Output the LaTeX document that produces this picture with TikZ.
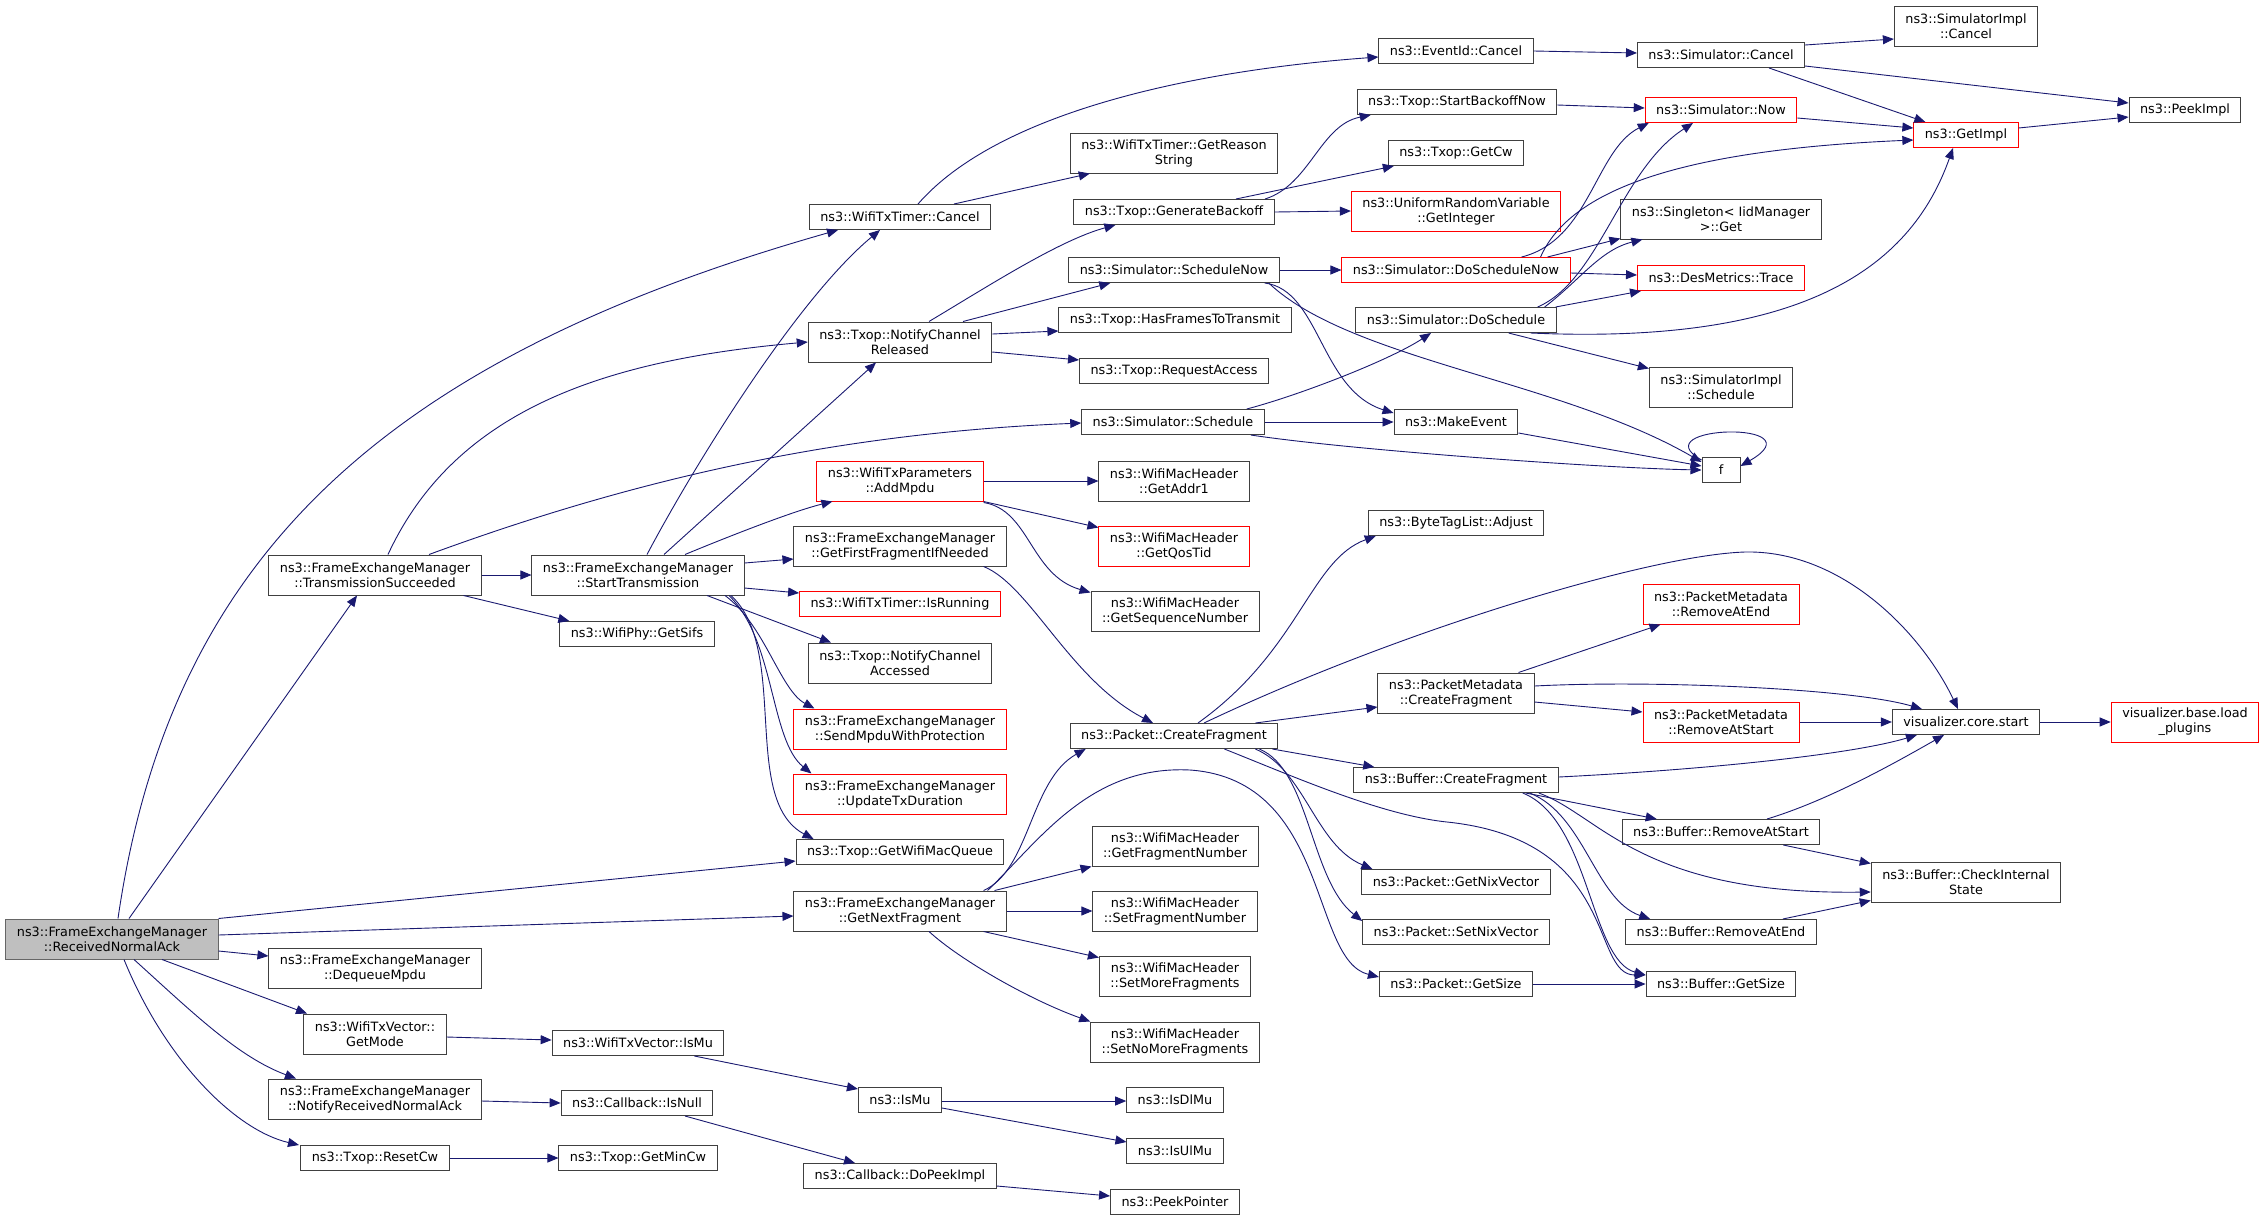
\documentclass[tikz,border=0pt]{standalone}
\usepackage{fontspec}
\setmainfont{DejaVu Sans}
\usetikzlibrary{arrows.meta,calc}
\definecolor{edgecol}{HTML}{191970}
\definecolor{boxcol}{HTML}{404040}
\definecolor{truncol}{HTML}{FF0000}
\definecolor{curdraw}{HTML}{666666}
\definecolor{curfill}{HTML}{BFBFBF}
\tikzset{
  fn/.style={draw=boxcol, line width=1pt, fill=white, inner xsep=11pt, inner ysep=2pt,
    minimum height=25pt, align=center, font=\fontsize{12.8}{15}\selectfont},
  dbl/.style={minimum height=40pt},
  trunc/.style={draw=truncol},
  cur/.style={draw=curdraw, fill=curfill},
  call/.style={draw=edgecol, line width=0.9pt, -{Triangle[length=11pt,width=9pt]}}
}
\begin{document}
\begin{tikzpicture}[x=1pt,y=-1pt]
\useasboundingbox (0,0) rectangle (2267,1221);
\node[fn,dbl,cur] (rna) at (112,939) {ns3::FrameExchangeManager\\::ReceivedNormalAck};
\node[fn,dbl] (ts) at (375,575) {ns3::FrameExchangeManager\\::TransmissionSucceeded};
\node[fn,dbl] (st) at (638,575) {ns3::FrameExchangeManager\\::StartTransmission};
\node[fn] (sifs) at (637,634) {ns3::WifiPhy::GetSifs};
\node[fn,dbl] (dqm) at (375,968) {ns3::FrameExchangeManager\\::DequeueMpdu};
\node[fn,dbl] (gm) at (375,1034) {ns3::WifiTxVector::\\GetMode};
\node[fn,dbl] (nrna) at (375,1099) {ns3::FrameExchangeManager\\::NotifyReceivedNormalAck};
\node[fn] (rcw) at (375,1158) {ns3::Txop::ResetCw};
\node[fn] (tcan) at (900,217) {ns3::WifiTxTimer::Cancel};
\node[fn,dbl] (ncr) at (900,342) {ns3::Txop::NotifyChannel\\Released};
\node[fn,dbl,trunc] (addm) at (900,481) {ns3::WifiTxParameters\\::AddMpdu};
\node[fn,dbl] (gff) at (900,546) {ns3::FrameExchangeManager\\::GetFirstFragmentIfNeeded};
\node[fn,trunc] (run) at (900,604) {ns3::WifiTxTimer::IsRunning};
\node[fn,dbl] (nca) at (900,663) {ns3::Txop::NotifyChannel\\Accessed};
\node[fn,dbl,trunc] (smp) at (900,729) {ns3::FrameExchangeManager\\::SendMpduWithProtection};
\node[fn,dbl,trunc] (utd) at (900,794) {ns3::FrameExchangeManager\\::UpdateTxDuration};
\node[fn] (gwmq) at (900,852) {ns3::Txop::GetWifiMacQueue};
\node[fn,dbl] (gnf) at (900,911) {ns3::FrameExchangeManager\\::GetNextFragment};
\node[fn] (tvmu) at (638,1043) {ns3::WifiTxVector::IsMu};
\node[fn] (isnull) at (637,1103) {ns3::Callback::IsNull};
\node[fn] (gmin) at (638,1158) {ns3::Txop::GetMinCw};
\node[fn] (ismu) at (900,1100) {ns3::IsMu};
\node[fn] (dpi) at (900,1176) {ns3::Callback::DoPeekImpl};
\node[fn,dbl] (grs) at (1174,153) {ns3::WifiTxTimer::GetReason\\String};
\node[fn] (gb) at (1174,212) {ns3::Txop::GenerateBackoff};
\node[fn] (sn) at (1174,270) {ns3::Simulator::ScheduleNow};
\node[fn] (hft) at (1175,320) {ns3::Txop::HasFramesToTransmit};
\node[fn] (ra) at (1174,371) {ns3::Txop::RequestAccess};
\node[fn] (sch) at (1173,422) {ns3::Simulator::Schedule};
\node[fn,dbl] (ga1) at (1174,481) {ns3::WifiMacHeader\\::GetAddr1};
\node[fn,dbl,trunc] (gqt) at (1174,546) {ns3::WifiMacHeader\\::GetQosTid};
\node[fn,dbl] (gsn) at (1175,611) {ns3::WifiMacHeader\\::GetSequenceNumber};
\node[fn] (pcf) at (1174,736) {ns3::Packet::CreateFragment};
\node[fn,dbl] (gfn) at (1175,846) {ns3::WifiMacHeader\\::GetFragmentNumber};
\node[fn,dbl] (sfn) at (1175,911) {ns3::WifiMacHeader\\::SetFragmentNumber};
\node[fn,dbl] (smf) at (1175,976) {ns3::WifiMacHeader\\::SetMoreFragments};
\node[fn,dbl] (snmf) at (1175,1042) {ns3::WifiMacHeader\\::SetNoMoreFragments};
\node[fn] (isdl) at (1175,1100) {ns3::IsDlMu};
\node[fn] (isul) at (1175,1151) {ns3::IsUlMu};
\node[fn] (ppt) at (1175,1202) {ns3::PeekPointer};
\node[fn] (ecan) at (1456,51) {ns3::EventId::Cancel};
\node[fn] (sbn) at (1457,102) {ns3::Txop::StartBackoffNow};
\node[fn] (gcw) at (1456,153) {ns3::Txop::GetCw};
\node[fn,dbl,trunc] (gint) at (1456,211) {ns3::UniformRandomVariable\\::GetInteger};
\node[fn,trunc] (dsn) at (1456,270) {ns3::Simulator::DoScheduleNow};
\node[fn] (ds) at (1456,320) {ns3::Simulator::DoSchedule};
\node[fn] (mev) at (1456,422) {ns3::MakeEvent};
\node[fn] (adj) at (1456,523) {ns3::ByteTagList::Adjust};
\node[fn,dbl] (pmcf) at (1456,693) {ns3::PacketMetadata\\::CreateFragment};
\node[fn] (bcf) at (1456,780) {ns3::Buffer::CreateFragment};
\node[fn] (gnv) at (1456,882) {ns3::Packet::GetNixVector};
\node[fn] (snv) at (1456,932) {ns3::Packet::SetNixVector};
\node[fn] (pgs) at (1456,984) {ns3::Packet::GetSize};
\node[fn] (scan) at (1721,55) {ns3::Simulator::Cancel};
\node[fn,trunc] (now) at (1721,110) {ns3::Simulator::Now};
\node[fn,dbl] (sing) at (1721,219) {ns3::Singleton< IidManager\\>::Get};
\node[fn,trunc] (trace) at (1721,278) {ns3::DesMetrics::Trace};
\node[fn,dbl] (sisch) at (1721,387) {ns3::SimulatorImpl\\::Schedule};
\node[fn,minimum width=38pt] (f) at (1721,470) {f};
\node[fn,dbl,trunc] (rae) at (1721,604) {ns3::PacketMetadata\\::RemoveAtEnd};
\node[fn,dbl,trunc] (ras) at (1721,722) {ns3::PacketMetadata\\::RemoveAtStart};
\node[fn] (brs) at (1721,832) {ns3::Buffer::RemoveAtStart};
\node[fn] (bre) at (1721,932) {ns3::Buffer::RemoveAtEnd};
\node[fn] (bgs) at (1721,984) {ns3::Buffer::GetSize};
\node[fn,dbl] (sican) at (1966,26) {ns3::SimulatorImpl\\::Cancel};
\node[fn,trunc] (gimpl) at (1966,135) {ns3::GetImpl};
\node[fn] (vcs) at (1966,722) {visualizer.core.start};
\node[fn,dbl] (cis) at (1966,882) {ns3::Buffer::CheckInternal\\State};
\node[fn] (pimpl) at (2185,110) {ns3::PeekImpl};
\node[fn,dbl,trunc] (lp) at (2185,722) {visualizer.base.load\\\_plugins};
\draw[call] ($(rna.north)+(6,0)$) .. controls (170,560) and (380,360) .. ($(tcan.south)+(-62,0)$);
\draw[call] ($(rna.north)+(17,0)$) -- ($(ts.south)+(-18,0)$);
\draw[call] (rna.north east) -- ($(gwmq.west)+(0,9)$);
\draw[call] ($(rna.east)+(0,-4)$) -- ($(gnf.west)+(0,5)$);
\draw[call] ($(rna.east)+(0,12)$) -- ($(dqm.west)+(0,-12)$);
\draw[call] ($(rna.south)+(50,0)$) -- ($(gm.north)+(-68,0)$);
\draw[call] ($(rna.south)+(22,0)$) .. controls (192,1012) and (238,1057) .. ($(nrna.north)+(-79,0)$);
\draw[call] ($(rna.south)+(12,0)$) .. controls (165,1060) and (235,1130) .. ($(rcw.north)+(-76,0)$);
\draw[call] ($(ts.north)+(13,0)$) .. controls (455,410) and (604,360) .. (ncr.west);
\draw[call] ($(ts.north)+(54,0)$) .. controls (640,477) and (841,433) .. ($(sch.west)+(0,1)$);
\draw[call] (ts.east) -- (st.west);
\draw[call] ($(ts.south east)+(-18,0)$) -- ($(sifs.north west)+(10,0)$);
\draw[call] ($(st.north)+(9,0)$) .. controls (696,462) and (798,298) .. ($(tcan.south)+(-20,0)$);
\draw[call] ($(st.north)+(26,0)$) -- ($(ncr.south)+(-24,0)$);
\draw[call] ($(st.north)+(47,0)$) .. controls (720,540) and (790,512) .. ($(addm.south west)+(16,0)$);
\draw[call] ($(st.east)+(0,-12)$) -- ($(gff.west)+(0,13)$);
\draw[call] ($(st.east)+(0,13)$) -- ($(run.west)+(0,-11)$);
\draw[call] ($(st.south)+(69,0)$) -- ($(nca.north)+(-69,0)$);
\draw[call] ($(st.south)+(87,0)$) .. controls (765,625) and (780,690) .. ($(smp.north west)+(21,0)$);
\draw[call] ($(st.south)+(91,0)$) .. controls (775,640) and (770,740) .. ($(utd.north west)+(18,0)$);
\draw[call] ($(st.south)+(93,0)$) .. controls (790,650) and (740,800) .. ($(gwmq.north west)+(18,0)$);
\draw[call] ($(tcan.north)+(18,0)$) .. controls (1000,110) and (1200,70) .. ($(ecan.west)+(0,6)$);
\draw[call] ($(tcan.north)+(54,0)$) -- ($(grs.south west)+(20,0)$);
\draw[call] ($(ncr.north)+(29,0)$) .. controls (990,285) and (1060,240) .. ($(gb.south west)+(42,0)$);
\draw[call] ($(ncr.north)+(63,0)$) -- ($(sn.south west)+(42,0)$);
\draw[call] ($(ncr.east)+(0,-8)$) -- ($(hft.west)+(0,11)$);
\draw[call] ($(ncr.east)+(0,10)$) -- ($(ra.west)+(0,-11)$);
\draw[call] ($(gb.north)+(91,0)$) .. controls (1310,185) and (1320,125) .. ($(sbn.south west)+(14,0)$);
\draw[call] ($(gb.north)+(62,0)$) -- ($(gcw.south west)+(6,0)$);
\draw[call] (gb.east) -- (gint.west);
\draw[call] ($(sbn.east)+(0,3)$) -- ($(now.west)+(0,-2)$);
\draw[call] (sn.east) -- (dsn.west);
\draw[call] ($(sn.south east)+(-15,0)$) .. controls (1320,290) and (1320,390) .. ($(mev.north west)+(0,4)$);
\draw[call] ($(sn.south east)+(-11,0)$) .. controls (1350,360) and (1560,380) .. ($(f.west)+(0,-8)$);
\draw[call] ($(dsn.north east)+(-49,0)$) .. controls (1590,240) and (1595,150) .. ($(now.south west)+(4,0)$);
\draw[call] ($(dsn.north east)+(-30,0)$) .. controls (1570,190) and (1680,150) .. ($(gimpl.west)+(0,5)$);
\draw[call] ($(dsn.north east)+(-23,0)$) -- ($(sing.south west)+(0,-1)$);
\draw[call] ($(dsn.east)+(0,3)$) -- ($(trace.west)+(0,-3)$);
\draw[call] ($(ds.north east)+(-19,0)$) .. controls (1600,280) and (1620,170) .. ($(now.south)+(-28,0)$);
\draw[call] ($(ds.north east)+(-12,0)$) .. controls (1580,280) and (1600,250) .. ($(sing.south west)+(22,0)$);
\draw[call] ($(ds.north east)+(-1,0)$) -- ($(trace.south west)+(4,0)$);
\draw[call] ($(ds.south east)+(-26,0)$) .. controls (1800,345) and (1910,270) .. ($(gimpl.south)+(-13,0)$);
\draw[call] ($(ds.south east)+(-48,0)$) -- ($(sisch.north west)+(0,2)$);
\draw[call] ($(sch.north east)+(-18,0)$) .. controls (1300,395) and (1390,360) .. ($(ds.south)+(-25,0)$);
\draw[call] (sch.east) -- (mev.west);
\draw[call] ($(sch.south east)+(-14,0)$) .. controls (1350,450) and (1600,468) .. (f.west);
\draw[call] ($(mev.east)+(0,11)$) -- ($(f.west)+(0,-4)$);
\draw[call] ($(f.north west)+(0,3)$) .. controls (1640,425) and (1820,420) .. ($(f.east)+(0,-4)$);
\draw[call] (ecan.east) -- ($(scan.west)+(0,-2)$);
\draw[call] ($(scan.east)+(0,-10)$) -- ($(sican.west)+(0,13)$);
\draw[call] ($(scan.east)+(0,11)$) -- ($(pimpl.west)+(0,-7)$);
\draw[call] ($(scan.south east)+(-36,0)$) -- ($(gimpl.north west)+(12,0)$);
\draw[call] ($(now.east)+(0,8)$) -- ($(gimpl.west)+(0,-7)$);
\draw[call] ($(gimpl.east)+(0,-7)$) -- ($(pimpl.west)+(0,7)$);
\draw[call] (addm.east) -- (ga1.west);
\draw[call] (addm.south east) -- ($(gqt.north west)+(0,2)$);
\draw[call] ($(addm.south east)+(0,1)$) .. controls (1030,510) and (1030,575) .. ($(gsn.north west)+(0,2)$);
\draw[call] ($(gff.south east)+(-23,0)$) .. controls (1030,585) and (1070,680) .. ($(pcf.north)+(-21,0)$);
\draw[call] ($(gnf.north east)+(-23,0)$) .. controls (1030,870) and (1030,780) .. ($(pcf.south west)+(16,0)$);
\draw[call] ($(gnf.north east)+(-19,0)$) .. controls (1040,840) and (1090,765) .. (1190,770)
  .. controls (1330,780) and (1310,960) .. ($(pgs.west)+(0,-7)$);
\draw[call] ($(gnf.north east)+(-12,0)$) -- (gfn.south west);
\draw[call] (gnf.east) -- (sfn.west);
\draw[call] ($(gnf.south east)+(-23,0)$) -- ($(smf.north west)+(0,2)$);
\draw[call] ($(gnf.south)+(29,0)$) .. controls (960,960) and (1030,1000) .. (snmf.north west);
\draw[call] ($(pcf.north)+(24,0)$) .. controls (1300,650) and (1310,560) .. ($(adj.south west)+(8,0)$);
\draw[call] ($(pcf.north)+(30,0)$) .. controls (1400,630) and (1650,555) .. (1745,552)
  .. controls (1840,550) and (1920,630) .. ($(vcs.north)+(-8,0)$);
\draw[call] ($(pcf.north east)+(-23,0)$) -- ($(pmcf.west)+(0,14)$);
\draw[call] ($(pcf.south east)+(-6,0)$) -- ($(bcf.north west)+(21,0)$);
\draw[call] ($(pcf.south east)+(-23,0)$) .. controls (1305,770) and (1315,845) .. ($(gnv.north west)+(11,0)$);
\draw[call] ($(pcf.south east)+(-19,0)$) .. controls (1310,770) and (1310,880) .. ($(snv.north west)+(0,2)$);
\draw[call] ($(pcf.south east)+(-54,0)$) .. controls (1290,775) and (1380,815) .. (1447,822)
  .. controls (1620,840) and (1590,975) .. ($(bgs.west)+(0,-9)$);
\draw[call] ($(pmcf.north east)+(-16,0)$) -- ($(rae.south west)+(18,0)$);
\draw[call] ($(pmcf.east)+(0,-7)$) .. controls (1650,680) and (1850,688) .. ($(vcs.north west)+(30,0)$);
\draw[call] ($(pmcf.east)+(0,9)$) -- ($(ras.west)+(0,-10)$);
\draw[call] (ras.east) -- (vcs.west);
\draw[call] ($(bcf.east)+(0,-3)$) .. controls (1700,770) and (1850,755) .. ($(vcs.south west)+(25,0)$);
\draw[call] ($(brs.north)+(46,0)$) .. controls (1830,800) and (1900,760) .. ($(vcs.south)+(-22,0)$);
\draw[call] ($(bcf.south east)+(-33,0)$) -- ($(brs.north west)+(35,0)$);
\draw[call] ($(bcf.south east)+(-20,0)$) .. controls (1600,815) and (1640,895) .. ($(cis.west)+(0,10)$);
\draw[call] ($(bcf.south east)+(-29,0)$) .. controls (1585,815) and (1595,900) .. ($(bre.north west)+(25,0)$);
\draw[call] ($(bcf.south east)+(-36,0)$) .. controls (1590,820) and (1590,960) .. ($(bgs.west)+(0,-9)$);
\draw[call] ($(brs.south east)+(-37,0)$) -- ($(cis.north west)+(0,2)$);
\draw[call] ($(bre.north east)+(-34,0)$) -- ($(cis.south west)+(0,-2)$);
\draw[call] (pgs.east) -- (bgs.west);
\draw[call] (vcs.east) -- (lp.west);
\draw[call] ($(gm.east)+(0,3)$) -- ($(tvmu.west)+(0,-3)$);
\draw[call] ($(tvmu.south east)+(-30,0)$) -- ($(ismu.north west)+(0,2)$);
\draw[call] ($(ismu.east)+(0,1)$) -- ($(isdl.west)+(0,1)$);
\draw[call] ($(ismu.east)+(0,8)$) -- ($(isul.west)+(0,-9)$);
\draw[call] ($(nrna.east)+(0,2)$) -- (isnull.west);
\draw[call] ($(isnull.south)+(48,0)$) -- ($(dpi.north)+(-45,0)$);
\draw[call] ($(dpi.east)+(0,10)$) -- ($(ppt.west)+(0,-6)$);
\draw[call] (rcw.east) -- (gmin.west);
\end{tikzpicture}
\end{document}
